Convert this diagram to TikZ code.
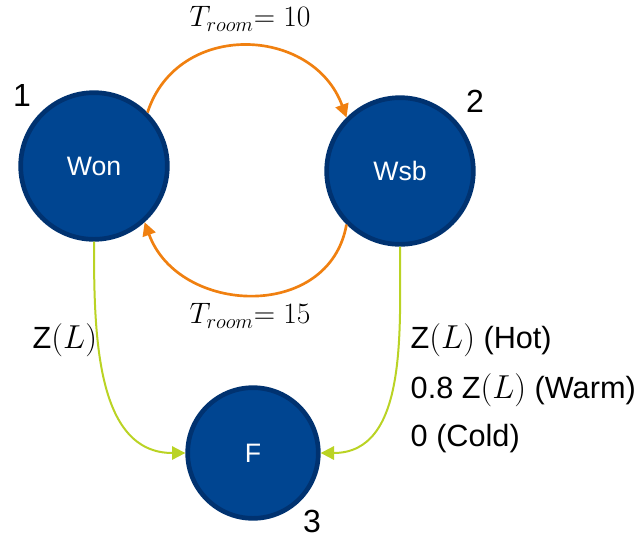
\documentclass[tikz,border=0pt]{standalone}
\usepackage{graphicx}
\usepackage{fontspec}
\setmainfont{Liberation Sans}
\usetikzlibrary{arrows.meta, positioning}
\definecolor{stateblue}{RGB}{0,69,145}
\definecolor{stateedge}{RGB}{0,50,112}
\definecolor{roomorange}{RGB}{240,128,16}
\definecolor{zgreen}{RGB}{186,211,36}

\begin{document}
\begin{tikzpicture}[
        x=0.75pt, y=-0.75pt,
        state/.style={circle, draw=stateedge, line width=3.5pt, fill=stateblue,
                      text=white, font=\fontsize{20}{24}\selectfont},
        num/.style={font=\fontsize{24}{28}\selectfont},
        rate/.style={font=\fontsize{20.74}{25}\selectfont},
        cond/.style={anchor=west, font=\fontsize{23}{28}\selectfont},
        swap/.style={-{Triangle[length=10pt, width=10pt]}, line width=2pt, draw=roomorange},
        drop/.style={-{Triangle[length=10pt, width=10pt]}, line width=1.5pt, draw=zgreen}
    ]
        \useasboundingbox (0,0) rectangle (639,537);
        \node[state, minimum size=110pt] (won) at (94,166) {Won};
        \node[state, minimum size=110pt] (wsb) at (400,171) {Wsb};
        \node[state, minimum size=98pt] (f) at (253,453) {F};
        \node[num] (n1) at (22,95) {1};
        \node[num] (n2) at (475,101) {2};
        \node[num] (n3) at (312,521) {3};
        \node[rate] (up) at (250,19) {\scalebox{1.07}{$T_{room}{=}\;10$}};
        \node[rate] (down) at (250,316) {\scalebox{1.07}{$T_{room}{=}\;15$}};
        \node[cond] (zl) at (28,340) {Z$(L)$};
        \node[cond] (hot) at (406,340) {Z$(L)$ (Hot)};
        \node[cond] (warm) at (406,390) {0.8 Z$(L)$ (Warm)};
        \node[cond] (cold) at (406,439) {0 (Cold)};
        \draw[swap] (won.45) to[out=72, in=110, looseness=1.25] (wsb.135);
        \draw[swap] (wsb.225) to[out=-100, in=-70, looseness=1.25] (won.312);
        \draw[drop] (won.south) to[out=-90, in=180] (f.west);
        \draw[drop] (wsb.south) to[out=-90, in=0] (f.east);
    \end{tikzpicture}
\end{document}
